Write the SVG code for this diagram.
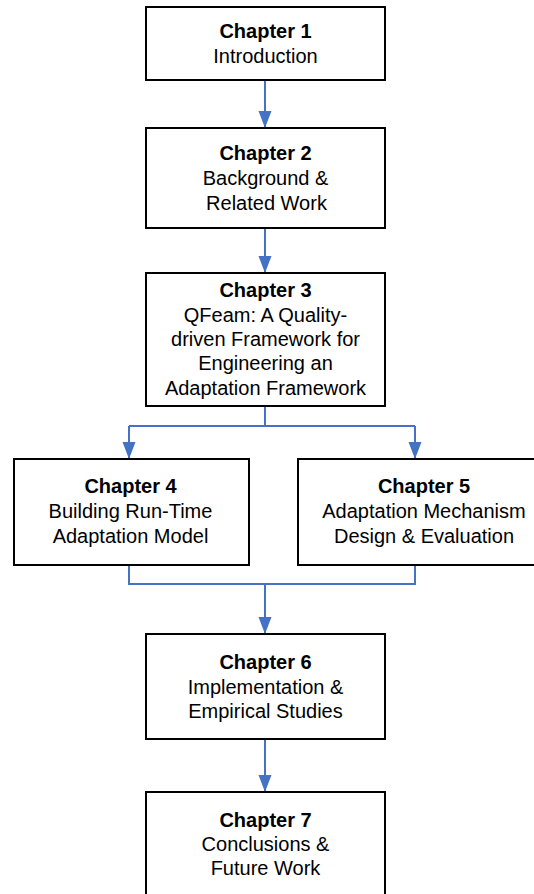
<svg xmlns="http://www.w3.org/2000/svg" width="534" height="894" viewBox="0 0 534 894">
<defs>
<style>
.box{fill:#fff;stroke:#000;stroke-width:2}
.t{font-family:"Liberation Sans",Arial,sans-serif;font-size:20px;text-anchor:middle;fill:#000}
.b{font-weight:bold}
.c{fill:none;stroke:#4472C4;stroke-width:2}
</style>
<marker id="ah" markerUnits="userSpaceOnUse" markerWidth="18" markerHeight="14" refX="17" refY="6.5" orient="auto">
<path d="M0,0 L17,6.5 L0,13 z" fill="#4472C4"/>
</marker>
</defs>
<rect width="534" height="894" fill="#fff"/>
<g id="connectors">
<line class="c" x1="265" y1="80" x2="265" y2="128" marker-end="url(#ah)"/>
<line class="c" x1="265" y1="228" x2="265" y2="273" marker-end="url(#ah)"/>
<polyline class="c" points="265,406 265,426"/>
<polyline class="c" points="129,426 415,426"/>
<line class="c" x1="129" y1="426" x2="129" y2="459" marker-end="url(#ah)"/>
<line class="c" x1="415" y1="426" x2="415" y2="459" marker-end="url(#ah)"/>
<polyline class="c" points="129,565 129,584 415,584 415,565"/>
<line class="c" x1="265" y1="584" x2="265" y2="634" marker-end="url(#ah)"/>
<line class="c" x1="265" y1="739" x2="265" y2="792" marker-end="url(#ah)"/>
</g>
<g id="ch1">
<rect class="box" x="146" y="7" width="239" height="73"/>
<text class="t b" x="265.5" y="38">Chapter 1</text>
<text class="t" x="265.5" y="63">Introduction</text>
</g>
<g id="ch2">
<rect class="box" x="146" y="128" width="239" height="100"/>
<text class="t b" x="265.5" y="160">Chapter 2</text>
<text class="t" x="265.5" y="185">Background &amp;</text>
<text class="t" x="266.5" y="210">Related Work</text>
</g>
<g id="ch3">
<rect class="box" x="146" y="273" width="239" height="133"/>
<text class="t b" x="265.5" y="297">Chapter 3</text>
<text class="t" x="265.5" y="322">QFeam: A Quality-</text>
<text class="t" x="265.5" y="346">driven Framework for</text>
<text class="t" x="265.5" y="370">Engineering an</text>
<text class="t" x="265.5" y="395">Adaptation Framework</text>
</g>
<g id="ch4">
<rect class="box" x="14" y="459" width="235" height="106"/>
<text class="t b" x="130.5" y="493">Chapter 4</text>
<text class="t" x="130.5" y="518">Building Run-Time</text>
<text class="t" x="130.5" y="543">Adaptation Model</text>
</g>
<g id="ch5">
<rect class="box" x="298" y="459" width="252" height="106"/>
<text class="t b" x="424" y="493">Chapter 5</text>
<text class="t" x="424" y="518">Adaptation Mechanism</text>
<text class="t" x="424" y="543">Design &amp; Evaluation</text>
</g>
<g id="ch6">
<rect class="box" x="146" y="634" width="239" height="105"/>
<text class="t b" x="265.5" y="669">Chapter 6</text>
<text class="t" x="265.5" y="694">Implementation &amp;</text>
<text class="t" x="265.5" y="718">Empirical Studies</text>
</g>
<g id="ch7">
<rect class="box" x="146" y="792" width="239" height="110"/>
<text class="t b" x="265.5" y="827">Chapter 7</text>
<text class="t" x="265.5" y="851">Conclusions &amp;</text>
<text class="t" x="265.5" y="875">Future Work</text>
</g>
</svg>
